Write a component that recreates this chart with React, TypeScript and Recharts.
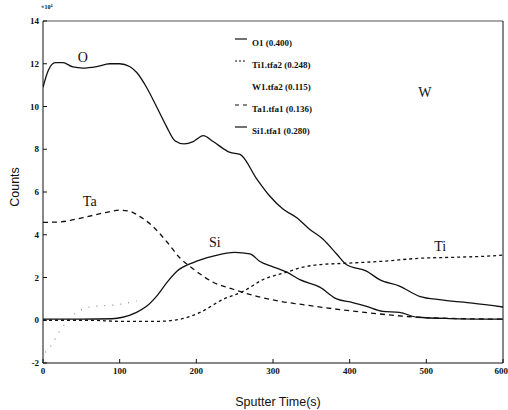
import React from "react";
import { LineChart, Line, XAxis, YAxis, Legend, ReferenceDot } from "recharts";

// Depth profile: counts (x10^4) against sputter time in seconds.
const oTime = [0, 7, 16, 26, 39, 52, 70, 87, 100, 113, 122, 135, 148, 161, 172, 184, 196, 209, 222, 244, 257, 279, 296, 313, 331, 348, 365, 383, 396, 422, 439, 465, 491, 520, 560, 600];
const oCounts = [10.9, 11.7, 12.05, 12.05, 11.85, 11.8, 11.87, 12.0, 12.0, 11.87, 11.6, 10.9, 10.0, 9.07, 8.4, 8.25, 8.36, 8.64, 8.36, 7.85, 7.76, 6.6, 5.8, 5.2, 4.8, 4.25, 3.8, 3.1, 2.6, 2.3, 1.9, 1.6, 1.12, 0.95, 0.8, 0.62];

const taTime = [0, 22, 52, 83, 100, 113, 126, 143, 162, 179, 196, 222, 248, 279, 309, 335, 387, 443, 488, 540, 600];
const taCounts = [4.58, 4.6, 4.8, 5.05, 5.15, 5.1, 4.86, 4.4, 3.65, 2.9, 2.4, 1.78, 1.45, 1.12, 0.89, 0.75, 0.5, 0.28, 0.14, 0.08, 0.05];

const siTime = [0, 50, 90, 104, 122, 135, 148, 162, 175, 196, 222, 250, 270, 283, 300, 318, 335, 361, 383, 404, 422, 443, 465, 488, 530, 600];
const siCounts = [0.05, 0.05, 0.07, 0.14, 0.37, 0.65, 1.12, 1.78, 2.3, 2.7, 3.0, 3.18, 3.1, 2.75, 2.5, 2.25, 1.9, 1.55, 1.0, 0.83, 0.65, 0.42, 0.37, 0.14, 0.08, 0.05];

const tiTime = [0, 60, 100, 150, 179, 205, 235, 261, 287, 318, 335, 360, 391, 443, 491, 540, 580, 600];
const tiCounts = [0, 0, -0.05, -0.05, 0.05, 0.37, 0.98, 1.35, 1.9, 2.25, 2.45, 2.6, 2.66, 2.76, 2.9, 2.95, 3.0, 3.05];

const wTime = [3, 9, 22, 44, 61, 77, 95, 122];
const wCounts = [-1.5, -1.26, -0.5, 0.37, 0.62, 0.68, 0.72, 0.9];

const timeTicks = [0, 100, 200, 300, 400, 500, 600];
const countTicks = [-2, 0, 2, 4, 6, 8, 10, 12, 14];

const legendItems = [
  { name: "O1 (0.400)", dash: "" },
  { name: "Ti1.tfa2 (0.248)", dash: "2 2" },
  { name: "W1.tfa2 (0.115)", dash: null },
  { name: "Ta1.tfa1 (0.136)", dash: "4 4" },
  { name: "Si1.tfa1 (0.280)", dash: "" },
];

const curveLabels = [
  { text: "O", time: 52, counts: 12.3 },
  { text: "Ta", time: 61, counts: 5.56 },
  { text: "Si", time: 224, counts: 3.64 },
  { text: "Ti", time: 518, counts: 3.46 },
  { text: "W", time: 498, counts: 10.7 },
];

const zip = (t: number[], v: number[]) => t.map((time, i) => ({ time, value: v[i] }));

const SERIF = "'Liberation Serif', 'DejaVu Serif', serif";
const INK = "#111";
const tickStyle = { fontSize: 9, fontWeight: 700, fontFamily: SERIF, fill: INK };

function LegendBox() {
  return (
    <svg width={120} height={110}>
      {legendItems.map((item, i) => {
        const y = 9 + i * 22;
        return (
          <g key={item.name}>
            {item.dash !== null && (
              <line x1={3} x2={15} y1={y - 4} y2={y - 4} stroke={INK} strokeWidth={1.2} strokeDasharray={item.dash || undefined} />
            )}
            <text x={20} y={y + 3} fontSize={9} fontWeight={700} fontFamily={SERIF} fill={INK}>
              {item.name}
            </text>
          </g>
        );
      })}
    </svg>
  );
}

function CountsCaption() {
  return (
    <g fontFamily="'Liberation Sans', sans-serif" fill={INK}>
      <text x={15} y={187} transform="rotate(-90 15 187)" textAnchor="middle" dominantBaseline="central" fontSize={12.5}>
        Counts
      </text>
      <text x={41} y={9} fontSize={6} fontWeight={700} fontFamily={SERIF}>
        ×10<tspan dy={-2} fontSize={4}>4</tspan>
      </text>
    </g>
  );
}

export default function App() {
  const lineProps = { type: "monotone" as const, dataKey: "value", dot: false, isAnimationActive: false, stroke: INK, strokeWidth: 1.3 };
  return (
    <div style={{ position: "absolute", left: 0, top: 0, background: "#fff" }}>
      <LineChart width={508} height={410} margin={{ top: 16, right: 0, bottom: 0, left: 0 }}>
        <XAxis
          dataKey="time"
          type="number"
          domain={[0, 600]}
          ticks={timeTicks}
          allowDataOverflow
          height={47}
          tickSize={-4}
          tickMargin={9}
          tick={tickStyle}
          stroke={INK}
          label={{ value: "Sputter Time(s)", position: "insideBottom", offset: 4, dx: 5, style: { fontSize: 12.5, fontFamily: "'Liberation Sans', sans-serif", fill: INK } }}
        />
        <XAxis xAxisId="top" orientation="top" type="number" domain={[0, 600]} ticks={timeTicks} height={5} tick={false} tickSize={-4} stroke="#555" />
        <YAxis
          type="number"
          domain={[-2, 14]}
          ticks={countTicks}
          allowDataOverflow
          width={43}
          tickSize={-4}
          tickMargin={8}
          tick={tickStyle}
          stroke={INK}
          label={<CountsCaption />}
        />
        <YAxis yAxisId="right" orientation="right" type="number" domain={[-2, 14]} ticks={countTicks} width={5} tick={false} tickSize={-4} stroke={INK} />
        <Legend layout="vertical" align="center" verticalAlign="middle" content={<LegendBox />} wrapperStyle={{ position: "absolute", left: 232, top: 34, width: 120 }} />
        <Line {...lineProps} data={zip(oTime, oCounts)} name="O1" />
        <Line {...lineProps} data={zip(tiTime, tiCounts)} name="Ti1" strokeDasharray="3 3" />
        <Line {...lineProps} data={zip(wTime, wCounts)} name="W1" stroke="#888" strokeWidth={1.2} strokeDasharray="1 7" />
        <Line {...lineProps} data={zip(taTime, taCounts)} name="Ta1" strokeDasharray="5 4" />
        <Line {...lineProps} data={zip(siTime, siCounts)} name="Si1" />
        {curveLabels.map((l) => (
          <ReferenceDot
            key={l.text}
            x={l.time}
            y={l.counts}
            r={0}
            fill="none"
            stroke="none"
            ifOverflow="visible"
            label={{ value: l.text, position: "center", fontSize: 14, fontFamily: SERIF, fill: INK }}
          />
        ))}
      </LineChart>
    </div>
  );
}
